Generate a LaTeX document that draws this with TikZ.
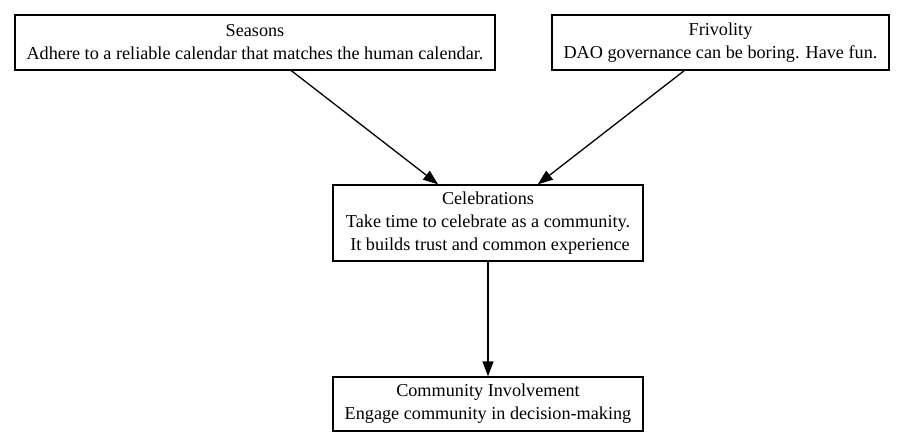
\documentclass[tikz,border=0pt]{standalone}
\usepackage{fontspec}
\setmainfont{Liberation Serif}
\usetikzlibrary{arrows.meta}
\begin{document}
\begin{tikzpicture}[x=1pt,y=-1pt,
  box/.style={draw=black,line width=1.3pt,rectangle,inner sep=0pt,align=center,
    font=\fontsize{18.2}{23}\selectfont,text=black},
  link/.style={draw=black,line width=1.3pt,-{Triangle[length=15pt,width=11pt]}}]
\useasboundingbox (0,0) rectangle (904,447);
\node[box,minimum width=480pt,minimum height=55pt] (seasons) at (255,42.5)
  {Seasons\\Adhere to a reliable calendar that matches the human calendar.};
\node[box,minimum width=337pt,minimum height=55pt] (frivolity) at (720.5,42.5)
  {Frivolity\\DAO governance can be boring. Have fun.};
\node[box,minimum width=310pt,minimum height=76pt] (celebrations) at (488,223)
  {Celebrations\\Take time to celebrate as a community.\\\hspace*{4pt}It builds trust and common experience};
\node[box,minimum width=310pt,minimum height=54pt] (involvement) at (488,404)
  {Community Involvement\\Engage community in decision-making};
\draw[link] (seasons) -- (celebrations);
\draw[link] (frivolity) -- (celebrations);
\draw[link] (celebrations) -- (involvement);
\end{tikzpicture}
\end{document}
